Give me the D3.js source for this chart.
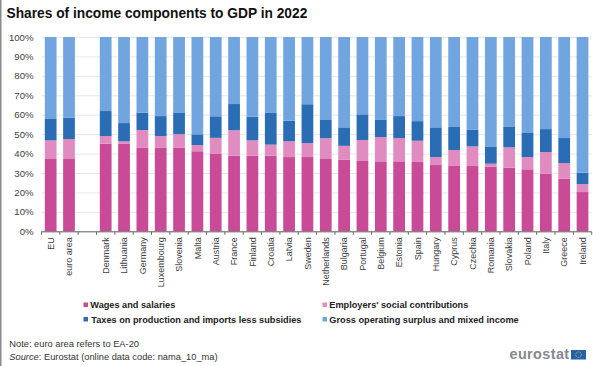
<!DOCTYPE html>
<html>
<head>
<meta charset="utf-8">
<script src="https://cdn.jsdelivr.net/npm/d3@7"></script>
<style>
html,body{margin:0;padding:0;background:#fff;}
svg{display:block;font-family:"Liberation Sans",Arial,sans-serif;}
</style>
</head>
<body>
<svg id="c" width="600" height="366"></svg>
<script>
const categories = ["EU","euro area"," ","Denmark","Lithuania","Germany","Luxembourg","Slovenia","Malta","Austria","France","Finland","Croatia","Latvia","Sweden","Netherlands","Bulgaria","Portugal","Belgium","Estonia","Spain","Hungary","Cyprus","Czechia","Romania","Slovakia","Poland","Italy","Greece","Ireland"];
const wages     = [37.2,37.2,null,45.1,45.0,42.9,42.9,42.9,41.2,39.8,38.9,38.9,38.9,38.2,38.2,37.2,36.9,36.2,36.0,36.0,35.7,34.1,33.9,33.6,33.3,32.7,31.9,29.7,27.0,20.2];
const employers = [9.6,10.3,null,3.9,1.3,9.2,6.1,7.1,3.2,8.3,13.1,7.9,5.7,8.1,7.2,10.7,7.1,10.8,12.5,12.0,10.9,4.1,7.9,10.1,1.5,10.5,6.3,11.1,8.1,4.1];
const taxes     = [11.0,10.9,null,12.9,9.4,8.9,10.3,10.9,5.5,11.1,13.5,12.2,16.3,10.6,20.0,9.7,9.5,13.2,8.8,11.3,10.1,15.3,11.9,8.5,8.9,10.5,12.4,11.8,12.9,5.9];
const gross     = [42.2,41.6,null,38.1,44.3,39.0,40.7,39.1,50.1,40.8,34.5,41.0,39.1,43.1,34.6,42.4,46.5,39.8,42.7,40.7,43.3,46.5,46.3,47.8,56.3,46.3,49.4,47.4,52.0,69.8];
const seriesNames = ["Wages and salaries","Employers' social contributions","Taxes on production and imports less subsidies","Gross operating surplus and mixed income"];
const seriesColors = ["#C94A96","#E18CC0","#2A6DB5","#70A5DF"];
const yTicks = [0,10,20,30,40,50,60,70,80,90,100];

const svg = d3.select("#c");
const x = d3.scaleBand().domain(categories).range([41.5,591.7]).paddingInner(0.36).paddingOuter(0.18);
const y = d3.scaleLinear().domain([0,100]).range([231.3,37]);

svg.append("rect").attr("x",0).attr("y",0).attr("width",1.5).attr("height",366).attr("fill","#8a8a8a");

svg.append("text").attr("x",6.5).attr("y",18).attr("font-size",13.75).attr("font-weight","bold").attr("fill","#111")
  .text("Shares of income components to GDP in 2022");

const yAxis = d3.axisLeft(y).tickValues(yTicks).tickFormat(d=>d+"%").tickSize(-(591.7-41.5)).tickPadding(8);
const gy = svg.append("g").attr("transform","translate(41.5,0)").call(yAxis);
gy.select(".domain").remove();
gy.selectAll("line").attr("stroke","#e6e6e6");
gy.selectAll("text").attr("font-size",9.6).attr("fill","#404040").attr("font-family","inherit");

const rows = categories.map((c,i)=>({c,s0:wages[i],s1:employers[i],s2:taxes[i],s3:gross[i]})).filter(r=>r.s0!==null);
const stacked = d3.stack().keys(["s0","s1","s2","s3"])(rows);
svg.append("g").selectAll("g").data(stacked).join("g").attr("fill",(d,i)=>seriesColors[i])
  .selectAll("rect").data(d=>d.map(v=>({v,c:v.data.c}))).join("rect")
  .attr("x",d=>x(d.c)).attr("width",x.bandwidth())
  .attr("y",d=>y(d.v[1])).attr("height",d=>y(d.v[0])-y(d.v[1]));

const xAxis = d3.axisBottom(x).tickSize(0).tickPadding(0);
const gx = svg.append("g").attr("transform","translate(0,231.3)").call(xAxis);
gx.select(".domain").attr("stroke","#666").attr("d","M41.5,0.5H591.7");
gx.selectAll("text").attr("font-size",9).attr("fill","#404040").attr("font-family","inherit")
  .attr("text-anchor","end").attr("transform","translate(3.2,6) rotate(-90)").attr("x",0).attr("y",0).attr("dy",0);
gx.selectAll(null).data(d3.range(categories.length+1)).join("line")
  .attr("x1",i=>41.5+i*x.step()).attr("x2",i=>41.5+i*x.step()).attr("y1",0.5).attr("y2",3.5).attr("stroke","#666");

const legendX = [83.5,322.5], legendY = [305,319.5];
const pos = [[0,0],[1,0],[0,1],[1,1]];
seriesNames.forEach((n,i)=>{
  const lx = legendX[pos[i][0]], ly = legendY[pos[i][1]];
  const g = svg.append("g");
  g.append("rect").attr("x",lx).attr("y",ly-2.5).attr("width",4.5).attr("height",4.5).attr("fill",seriesColors[i]);
  g.append("text").attr("x",lx+ (i===2?7.8:6.8)).attr("y",ly+3.3).attr("font-size",9.2).attr("font-weight","bold").attr("fill","#222").text(n);
});

svg.append("text").attr("x",9.3).attr("y",347).attr("font-size",9.3).attr("fill","#333").text("Note: euro area refers to EA-20");
const src = svg.append("text").attr("x",9.3).attr("y",360).attr("font-size",9.3).attr("fill","#333");
src.append("tspan").attr("font-style","italic").text("Source");
src.append("tspan").text(": Eurostat (online data code: nama_10_ma)");

svg.append("text").attr("x",509.5).attr("y",359).attr("font-size",14.4).attr("font-weight","bold").attr("letter-spacing",0.4).attr("fill","#85898d").text("eurostat");
svg.append("rect").attr("x",571).attr("y",350).attr("width",15).attr("height",9.5).attr("fill","#2462a8");
svg.append("circle").attr("cx",578.5).attr("cy",354.7).attr("r",2.8).attr("fill","none").attr("stroke","#d8cf7a").attr("stroke-width",0.8).attr("stroke-dasharray","1 0.8");
</script>
</body>
</html>
